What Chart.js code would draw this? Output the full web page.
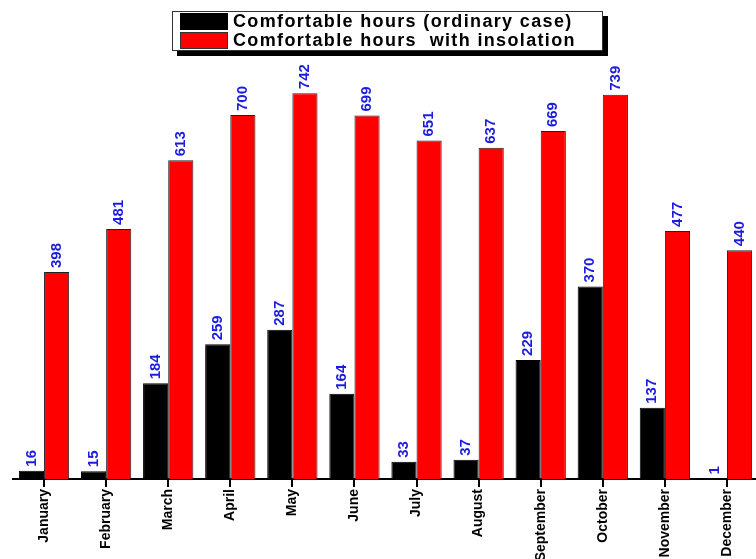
<!DOCTYPE html>
<html>
<head>
<meta charset="utf-8">
<script src="https://cdn.jsdelivr.net/npm/chart.js@4"></script>
<style>
  html, body { margin: 0; padding: 0; background: #fff; overflow: hidden; }
  #wrap { position: relative; width: 758px; height: 559px; }
  #legend {
    position: absolute; left: 172px; top: 11px; width: 429px; height: 38px;
    border: 1px solid #333; background: #fff; box-shadow: 5px 5px 0 #000;
    font: bold 18px "Liberation Sans", Arial, sans-serif; letter-spacing: 1.35px;
  }
  #legend .row { position: absolute; left: 7px; height: 17px; line-height: 17px; }
  #legend .sw { position: absolute; left: 0; top: 0; width: 48px; height: 17px; }
  #legend .txt { position: absolute; left: 53px; top: 0; white-space: pre; }
</style>
</head>
<body>
<div id="wrap">
  <canvas id="chart" width="758" height="559"></canvas>
  <div id="legend">
    <div class="row" style="top:1px"><div class="sw" style="background:#000"></div><div class="txt">Comfortable hours (ordinary case)</div></div>
    <div class="row" style="top:20px"><div class="sw" style="background:#ff0000;border:1px solid #333;box-sizing:border-box"></div><div class="txt">Comfortable hours  with insolation</div></div>
  </div>
</div>
<script>
const months = ['January', 'February', 'March', 'April', 'May', 'June', 'July',
  'August', 'September', 'October', 'November', 'December'];
const ordinaryHours = [16, 15, 184, 259, 287, 164, 33, 37, 229, 370, 137, 1];
const insolationHours = [398, 481, 613, 700, 742, 699, 651, 637, 669, 739, 477, 440];

// draws the blue rotated values above each bar
const valueLabels = {
  id: 'valueLabels',
  afterDatasetsDraw(chart) {
    const ctx = chart.ctx;
    ctx.save();
    ctx.fillStyle = '#1c1ce0';
    ctx.font = 'bold 15px "Liberation Sans", Arial, sans-serif';
    ctx.textAlign = 'left';
    ctx.textBaseline = 'middle';
    chart.data.datasets.forEach((ds, i) => {
      chart.getDatasetMeta(i).data.forEach((bar, j) => {
        ctx.save();
        ctx.translate(bar.x, bar.y - 4);
        ctx.rotate(-Math.PI / 2);
        ctx.fillText(String(ds.data[j]), 0, 0);
        ctx.restore();
      });
    });
    ctx.restore();
  }
};

new Chart(document.getElementById('chart').getContext('2d'), {
  type: 'bar',
  data: {
    labels: months,
    datasets: [{
      label: 'Comfortable hours (ordinary case)',
      data: ordinaryHours,
      backgroundColor: '#000000',
      borderColor: '#000000',
      borderWidth: 1
    }, {
      label: 'Comfortable hours  with insolation',
      data: insolationHours,
      backgroundColor: '#ff0000',
      borderColor: '#222222',
      borderWidth: 1
    }]
  },
  options: {
    responsive: false,
    animation: false,
    layout: { padding: { top: 63, left: 13, right: 0, bottom: 0 } },
    datasets: { bar: { categoryPercentage: 0.81, barPercentage: 1 } },
    scales: {
      y: { display: false, min: 0, max: 800 },
      x: {
        afterFit: (s) => { s.height = 80; },
        grid: { drawOnChartArea: false, offset: false, tickLength: 8, color: '#000', lineWidth: 2 },
        border: { display: true, color: '#000', width: 2 },
        ticks: {
          minRotation: 90, maxRotation: 90, padding: 2, color: '#000',
          font: { family: '"Liberation Sans", Arial, sans-serif', size: 14, weight: 'bold' }
        }
      }
    },
    plugins: { legend: { display: false }, tooltip: { enabled: false } }
  },
  plugins: [valueLabels]
});
</script>
</body>
</html>
